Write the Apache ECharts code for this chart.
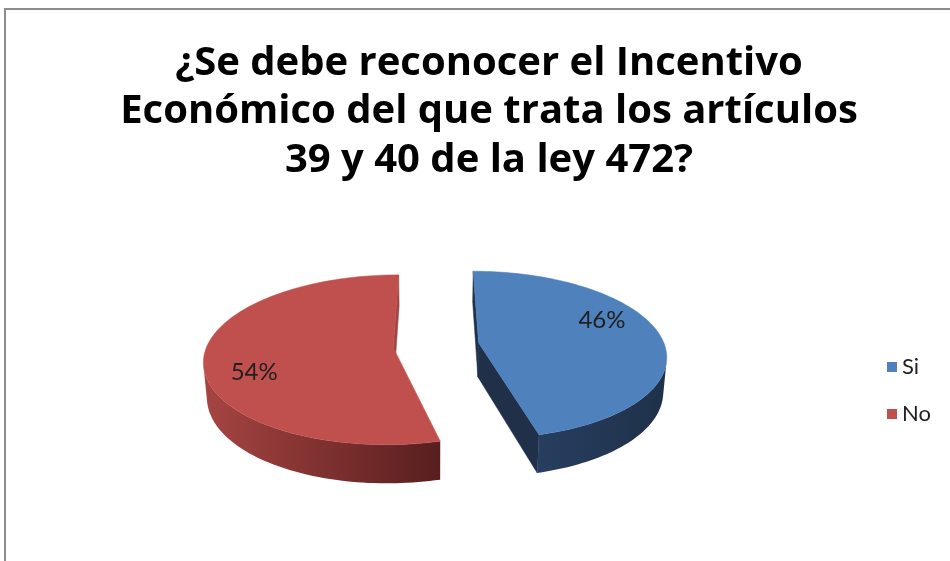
<!DOCTYPE html>
<html>
<head>
<meta charset="utf-8">
<style>
  html, body { margin: 0; padding: 0; background: #fff; }
  #chart { width: 950px; height: 561px; }
</style>
<script src="https://cdn.jsdelivr.net/npm/echarts@6/dist/echarts.min.js"></script>
</head>
<body>
<div id="chart"></div>
<script>
const categories = ["Si", "No"];
const values = [46, 54];
const titleLines = [
  "¿Se debe reconocer el Incentivo",
  "Económico del que trata los artículos",
  "39 y 40 de la ley 472?",
];

// look of the tilted pie (Excel style 3-D, exploded)
const sliceStyles = [
  { top: "#4F81BD", wallFrom: "#273E60", wallTo: "#1F3149", face: "#1F3048" },
  { top: "#C0504D", wallFrom: "#A64542", wallTo: "#581E1E", face: "#A34643" },
];
const TILT = 26.3 * Math.PI / 180;
const FOCAL = 1150;
const RADIUS = 186;
const THICK = 39;
const EXPLODE = 43;

const chart = echarts.init(document.getElementById("chart"));

function total() {
  return values.reduce((sum, v) => sum + v, 0);
}

function makeProjector(cx, cy) {
  const sinA = Math.sin(TILT);
  const cosA = Math.cos(TILT);
  // X right, Y up, Z away from viewer
  return (x, y, z) => {
    const up = y * cosA + z * sinA;
    const depth = z * cosA - y * sinA;
    const s = FOCAL / (FOCAL + depth);
    return [cx + x * s, cy - up * s];
  };
}

function signedArea(points) {
  let sum = 0;
  for (let i = 0; i < points.length; i++) {
    const [x1, y1] = points[i];
    const [x2, y2] = points[(i + 1) % points.length];
    sum += x1 * y2 - x2 * y1;
  }
  return sum / 2;
}

function makeRenderItem(index) {
  return function (params, api) {
    const width = api.getWidth();
    const height = api.getHeight();
    const project = makeProjector(width * 0.459, height * 0.615);
    const sum = total();
    const startFrac = values.slice(0, index).reduce((a, b) => a + b, 0) / sum;
    const frac = api.value(0) / sum;
    const a0 = startFrac * Math.PI * 2;
    const a1 = (startFrac + frac) * Math.PI * 2;
    const mid = (a0 + a1) / 2;
    const ox = EXPLODE * Math.sin(mid);
    const oz = EXPLODE * Math.cos(mid);
    const rim = (a, y) => project(ox + RADIUS * Math.sin(a), y, oz + RADIUS * Math.cos(a));
    const apex = y => project(ox, y, oz);
    const style = sliceStyles[index];

    const steps = Math.max(8, Math.ceil((a1 - a0) / (Math.PI / 120)));
    const angles = [];
    for (let k = 0; k <= steps; k++) angles.push(a0 + (a1 - a0) * k / steps);

    const children = [];

    // radial faces
    const startFace = [apex(0), rim(a0, 0), rim(a0, -THICK), apex(-THICK)];
    const endFace = [rim(a1, 0), apex(0), apex(-THICK), rim(a1, -THICK)];
    [startFace, endFace].forEach(face => {
      if (signedArea(face) < 0) {
        children.push({
          type: "polygon",
          shape: { points: face },
          style: { fill: style.face, stroke: style.face, lineWidth: 0.5 },
        });
      }
    });

    // outer curved wall, only the runs that face the viewer
    let run = null;
    const runs = [];
    for (let k = 0; k < steps; k++) {
      const quad = [rim(angles[k], 0), rim(angles[k + 1], 0), rim(angles[k + 1], -THICK), rim(angles[k], -THICK)];
      if (signedArea(quad) < 0) {
        if (!run) { run = [k, k + 1]; runs.push(run); } else { run[1] = k + 1; }
      } else {
        run = null;
      }
    }
    runs.forEach(([k0, k1]) => {
      const topEdge = [];
      const bottomEdge = [];
      for (let k = k0; k <= k1; k++) {
        topEdge.push(rim(angles[k], 0));
        bottomEdge.push(rim(angles[k], -THICK));
      }
      children.push({
        type: "polygon",
        shape: { points: topEdge.concat(bottomEdge.reverse()) },
        style: {
          fill: new echarts.graphic.LinearGradient(0, 0, 1, 0, [
            { offset: 0, color: style.wallFrom },
            { offset: 1, color: style.wallTo },
          ]),
        },
      });
    });

    // top face
    const topFace = [apex(0)].concat(angles.map(a => rim(a, 0)));
    children.push({
      type: "polygon",
      shape: { points: topFace },
      style: { fill: style.top, stroke: style.top, lineWidth: 0.5 },
    });

    // percentage label on the top face
    const labelAngle = mid - 15 * Math.PI / 180;
    const labelR = RADIUS * 0.76;
    const [lx, ly] = project(ox + labelR * Math.sin(labelAngle), 0, oz + labelR * Math.cos(labelAngle));
    children.push({
      type: "text",
      x: lx,
      y: ly,
      style: {
        text: Math.round(frac * 100) + "%",
        fill: "#1F1F1F",
        font: "24px Lato, 'Open Sans', sans-serif",
        align: "center",
        verticalAlign: "middle",
      },
    });

    return { type: "group", children };
  };
}

chart.setOption({
  animation: false,
  backgroundColor: "#ffffff",
  color: sliceStyles.map(s => s.top),
  title: {
    text: titleLines.join("\n"),
    left: 484,
    top: 34,
    textAlign: "center",
    textStyle: {
      fontFamily: "Open Sans",
      fontWeight: "bold",
      fontSize: 40,
      lineHeight: 48.5,
      color: "#000000",
    },
  },
  legend: {
    orient: "vertical",
    left: 882,
    top: 351,
    itemWidth: 10,
    itemHeight: 10,
    itemGap: 25,
    icon: "rect",
    data: categories,
    textStyle: {
      fontFamily: "Lato",
      fontSize: 22,
      lineHeight: 20,
      color: "#1F1F1F",
      padding: [0, 0, 0, 0],
    },
  },
  graphic: [{
    type: "rect",
    silent: true,
    z: -10,
    shape: { x: 5, y: 9, width: 1000, height: 700 },
    style: { fill: "none", stroke: "#8C8C8C", lineWidth: 2 },
  }],
  series: categories.map((name, i) => ({
    type: "custom",
    name,
    coordinateSystem: "none",
    data: [[values[i]]],
    renderItem: makeRenderItem(i),
  })),
});

window.addEventListener("resize", () => chart.resize());
</script>
</body>
</html>
